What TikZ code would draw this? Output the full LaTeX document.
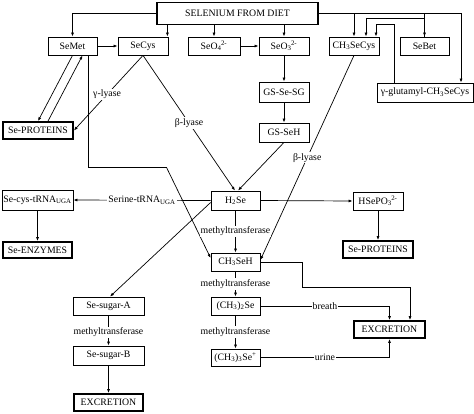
\documentclass[tikz,border=0pt]{standalone}
\usepackage{fontspec}
\setmainfont{Liberation Serif}
\usetikzlibrary{arrows.meta,calc}
\newcommand{\ssup}[2]{\textsubscript{#1}\kern-0.5pt\textsuperscript{#2}}
\begin{document}
\begin{tikzpicture}[x=1pt,y=-1pt, font=\fontsize{9.8}{11}\selectfont,
 box/.style={draw, line width=0.8pt, inner sep=0pt, align=center, minimum height=18pt},
 tbox/.style={box, line width=1.8pt},
 arr/.style={line width=0.7pt, -{Latex[length=4pt,width=3pt]}},
 ln/.style={line width=0.7pt},
 lbl/.style={fill=white, inner sep=1pt}]
\useasboundingbox (0,0) rectangle (474,413);
% boxes
\node[tbox, minimum width=161pt, minimum height=22pt] (diet) at (237.5,13.5) {SELENIUM FROM DIET};
\node[box, minimum width=49pt] (SeMet) at (72.5,46) {SeMet};
\node[box, minimum width=50pt] (SeCys) at (143,46) {SeCys};
\node[box, minimum width=52pt] (SeOf) at (214,46) {SeO\ssup{4}{2-}};
\node[box, minimum width=50pt] (SeOt) at (284,46) {SeO\ssup{3}{2-}};
\node[box, minimum width=50pt] (MeSeCys) at (354,46) {CH\textsubscript{3}SeCys};
\node[box, minimum width=49pt] (SeBet) at (424.5,46) {SeBet};
\node[box, minimum width=96pt, minimum height=19pt] (glu) at (425,92.5) {γ-glutamyl-CH\textsubscript{3}SeCys};
\node[box, minimum width=50pt, minimum height=20pt] (GSSG) at (284,92) {GS-Se-SG};
\node[box, minimum width=50pt, minimum height=19pt] (GSSeH) at (284,132.5) {GS-SeH};
\node[tbox, minimum width=70pt, minimum height=17pt] (ProtL) at (38,130.5) {Se-PROTEINS};
\node[box, minimum width=71pt, minimum height=20pt] (tRNA) at (37.5,200) {Se-cys-tRNA\textsubscript{UGA}};
\node[tbox, minimum width=69pt, minimum height=16pt] (Enz) at (37.5,250) {Se-ENZYMES};
\node[box, minimum width=49pt, minimum height=19pt] (HSe) at (235.5,200.5) {H\textsubscript{2}Se};
\node[box, minimum width=49pt] (MeSeH) at (235.5,262) {CH\textsubscript{3}SeH};
\node[box, minimum width=50pt] (HSePO) at (378,201) {HSePO\ssup{3}{2-}};
\node[tbox, minimum width=70pt, minimum height=17pt] (ProtR) at (378,249.5) {Se-PROTEINS};
\node[box, minimum width=49pt] (DiMe) at (235.5,306) {(CH\textsubscript{3})\textsubscript{2}Se};
\node[box, minimum width=49pt, minimum height=17pt] (TriMe) at (235.5,357.5) {(CH\textsubscript{3})\textsubscript{3}Se\textsuperscript{+}};
\node[tbox, minimum width=71pt, minimum height=17pt] (ExcR) at (389.5,329.5) {EXCRETION};
\node[box, minimum width=71pt] (SugA) at (108.5,306) {Se-sugar-A};
\node[box, minimum width=71pt, minimum height=19pt] (SugB) at (108.5,355.5) {Se-sugar-B};
\node[tbox, minimum width=69pt, minimum height=17pt] (ExcL) at (108.5,402.5) {EXCRETION};
% connectors from diet
\draw[arr] (diet.west) -| (SeMet.north);
\draw[arr] ([xshift=-1pt]SeCys.north east |- diet.south) -- ([xshift=-1pt]SeCys.north east);
\draw[arr] (SeOf.north |- diet.south) -- (SeOf.north);
\draw[arr] (SeOt.north |- diet.south) -- (SeOt.north);
\draw[arr] (diet.east) -| ([xshift=36pt]glu.north);
\draw[arr] (MeSeCys.north |- diet.east) -- (MeSeCys.north);
\draw[arr] (SeBet.north |- diet.east) -- (SeBet.north);
\draw[arr] (SeBet.north) -- ++(0,-18) -| ([xshift=12pt]MeSeCys.north);
\draw[arr] ([xshift=-31pt]glu.north) -- ++(0,-58) -| ([xshift=22pt]MeSeCys.north);
% top row
\draw[arr] (SeMet.east) -- (SeCys.west);
\draw[arr] (SeOf.east) -- (SeOt.west);
\draw[arr] (SeOt.south) -- (GSSG.north);
\draw[arr] (GSSG.south) -- (GSSeH.north);
\draw[arr] (GSSeH.south) -- ([xshift=2.5pt]HSe.north);
\draw[arr] (SeCys.south) -- node[lbl, pos=0.5] {β-lyase} ([xshift=-0.5pt]HSe.north);
\draw[arr] (SeCys.south) -- node[lbl, pos=0.52] {γ-lyase} (ProtL.east);
\draw[arr] (SeMet.south) -- (ProtL.north);
\draw[arr] ([xshift=10pt]ProtL.north) -- ([xshift=10pt]SeMet.south);
\draw[arr] ([xshift=16pt]SeMet.south) -- ++(0,112) -- ++(78,0) -- ([yshift=4pt]MeSeH.west);
\draw[arr] (MeSeCys.south) -- node[lbl, pos=0.5] {β-lyase} ([yshift=2pt]MeSeH.east);
% middle
\draw[arr] (HSe.west) -- node[lbl, pos=0.5] {Serine-tRNA\textsubscript{UGA}} (tRNA.east);
\draw[arr] (HSe.east) -- (HSePO.west);
\draw[arr] (HSePO.south) -- (ProtR.north);
\draw[arr] (tRNA.south) -- (Enz.north);
\draw[arr] (HSe.south) -- node[lbl] {methyltransferase} (MeSeH.north);
\draw[arr] ([yshift=-2pt]HSe.west) -- ([xshift=1.5pt]SugA.north);
\draw[arr] (MeSeH.south) -- node[lbl] {methyltransferase} (DiMe.north);
\draw[arr] (DiMe.south) -- node[lbl] {methyltransferase} (TriMe.north);
\draw[arr] (MeSeH.east) -- ++(42,0) -- ++(0,25) -| ([xshift=20.5pt]ExcR.north);
\draw[arr] (DiMe.east) -| node[lbl, pos=0.25] {breath} (ExcR.north);
\draw[arr] (TriMe.east) -| node[lbl, pos=0.25] {urine} (ExcR.south);
\draw[arr] (SugA.south) -- node[lbl, pos=0.55] {methyltransferase} (SugB.north);
\draw[arr] (SugB.south) -- (ExcL.north);
\end{tikzpicture}
\end{document}
